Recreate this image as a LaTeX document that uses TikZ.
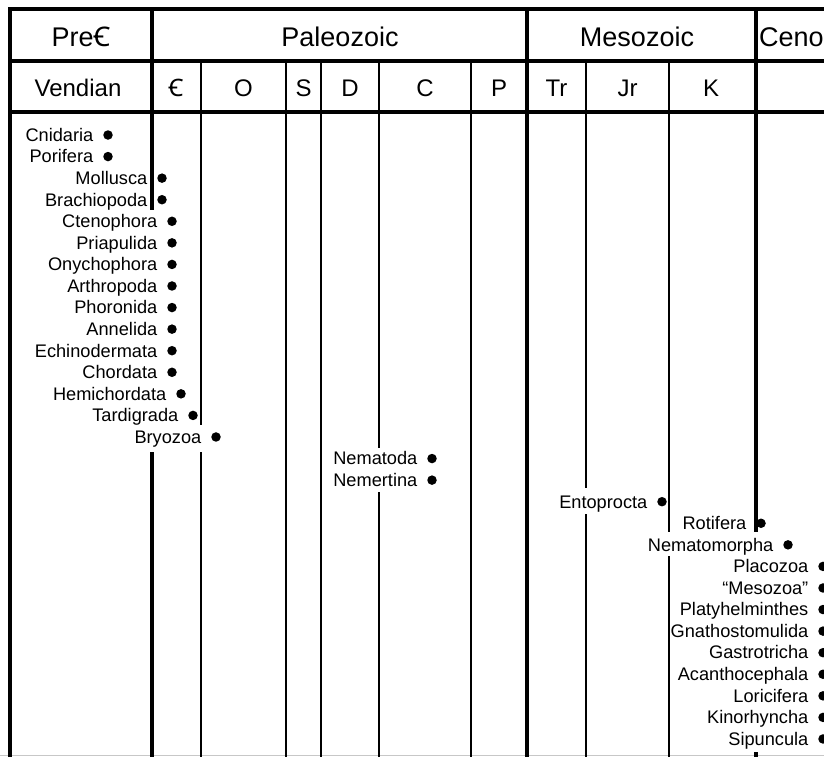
\documentclass[tikz,border=0pt]{standalone}
\usepackage{fontspec}
\setmainfont{Liberation Sans}
\newfontfamily\cambfont{Noto Sans}
\usetikzlibrary{calc}
\newcommand\Camb{{\cambfont Ꞓ}}
\tikzset{
  heavy/.style={line width=3.2pt, line cap=butt},
  light/.style={line width=1.8pt, line cap=butt},
  hdrA/.style={font=\fontsize{27}{30}\selectfont, anchor=base, inner sep=0pt},
  hdrB/.style={font=\fontsize{24}{28}\selectfont, anchor=base, inner sep=0pt},
  lab/.style={font=\fontsize{18.2}{20}\selectfont, anchor=base east, inner sep=0pt},
  dot/.style={circle, fill=black, inner sep=0pt, minimum size=9.5pt}
}
\newcommand\taxon[4]{%
  \node[dot] (d#1) at (#3,{135+21.57*#2}) {};
  \node[lab] (t#1) at ($(d#1.center)+(-14.5,6.3)$) {#4};}
\begin{document}
\begin{tikzpicture}[x=1pt,y=-1pt]
\useasboundingbox (0,0) rectangle (824,756);
\clip (0,0) rectangle (824,756);
\fill[white] (0,0) rectangle (824,756);
% horizontal rules
\draw[heavy] (8.4,9) -- (830,9);
\draw[heavy] (10,61) -- (830,61);
\draw[heavy] (10,112) -- (830,112);
\draw[black!22, line width=1pt] (0,755.5) -- (824,755.5);
% heavy verticals
\draw[heavy] (10,7.4) -- (10,760);
\draw[heavy] (152,9) -- (152,210);
\draw[heavy] (152,452) -- (152,760);
\draw[heavy] (527,9) -- (527,760);
\draw[heavy] (756,9) -- (756,532);
\draw[heavy] (756,752) -- (756,760);
% thin verticals
\draw[light] (201,61) -- (201,425);
\draw[light] (201,452) -- (201,760);
\draw[light] (286,61) -- (286,760);
\draw[light] (321,61) -- (321,760);
\draw[light] (379,61) -- (379,448);
\draw[light] (379,492) -- (379,760);
\draw[light] (471,61) -- (471,760);
\draw[light] (586,61) -- (586,488);
\draw[light] (586,514) -- (586,760);
\draw[light] (669,61) -- (669,532);
\draw[light] (669,556) -- (669,760);
% header texts
\node[hdrA] (pre) at (81,46.5) {Pre\Camb};
\node[hdrA] (paleo) at (340,46.5) {Paleozoic};
\node[hdrA] (meso) at (637,46.5) {Mesozoic};
\node[hdrA, anchor=base west] (ceno) at (759,46.5) {Ceno};
\node[hdrB] (vend) at (78,96) {Vendian};
\node[hdrB] (camb) at (176,96) {\Camb};
\node[hdrB] (ord) at (243.5,96) {O};
\node[hdrB] (sil) at (303.5,96) {S};
\node[hdrB] (dev) at (350,96) {D};
\node[hdrB] (carb) at (425,96) {C};
\node[hdrB] (perm) at (499,96) {P};
\node[hdrB] (tri) at (556.5,96) {Tr};
\node[hdrB] (jur) at (627.5,96) {Jr};
\node[hdrB] (kre) at (711,96) {K};
% taxa
\taxon{cni}{0}{108}{Cnidaria}
\taxon{por}{1}{108}{Porifera}
\taxon{mol}{2}{162}{Mollusca}
\taxon{bra}{3}{162}{Brachiopoda}
\taxon{cte}{4}{172}{Ctenophora}
\taxon{pri}{5}{172}{Priapulida}
\taxon{ony}{6}{172}{Onychophora}
\taxon{art}{7}{172}{Arthropoda}
\taxon{pho}{8}{172}{Phoronida}
\taxon{ann}{9}{172}{Annelida}
\taxon{ech}{10}{172}{Echinodermata}
\taxon{cho}{11}{172}{Chordata}
\taxon{hem}{12}{181}{Hemichordata}
\taxon{tar}{13}{193}{Tardigrada}
\taxon{bry}{14}{216}{Bryozoa}
\taxon{nmd}{15}{432}{Nematoda}
\taxon{nmt}{16}{432}{Nemertina}
\taxon{ent}{17}{662}{Entoprocta}
\taxon{rot}{18}{761}{Rotifera}
\taxon{nmm}{19}{788}{Nematomorpha}
\taxon{pla}{20}{823}{Placozoa}
\taxon{mes}{21}{823}{“Mesozoa”}
\taxon{ply}{22}{823}{Platyhelminthes}
\taxon{gna}{23}{823}{Gnathostomulida}
\taxon{gas}{24}{823}{Gastrotricha}
\taxon{aca}{25}{823}{Acanthocephala}
\taxon{lor}{26}{823}{Loricifera}
\taxon{kin}{27}{823}{Kinorhyncha}
\taxon{sip}{28}{823}{Sipuncula}
\end{tikzpicture}
\end{document}
